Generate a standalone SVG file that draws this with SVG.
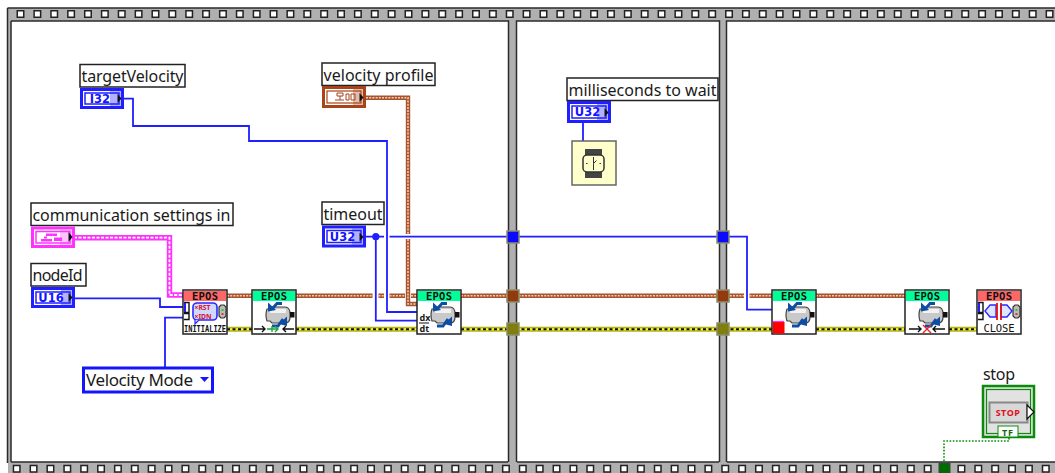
<svg xmlns="http://www.w3.org/2000/svg" width="1055" height="473" viewBox="0 0 1055 473">
<style>
text{font-family:"Noto Sans","Liberation Sans",sans-serif;fill:#1a1a1a}
.lbl{fill:#fff;stroke:#222;stroke-width:1.5}
.lt{font-size:16px}
.w{fill:none;stroke:#1f1fff;stroke-width:1.8}
.bo{fill:none;stroke:#a8532c;stroke-width:4.4}
.bi{fill:none;stroke:#eecfb8;stroke-width:1.6;stroke-dasharray:2 1.2}
.po{fill:none;stroke:#ff33ff;stroke-width:5.4}
.pi{fill:none;stroke:#fff;stroke-width:1.8;stroke-dasharray:3 1.5}
.yo{fill:none;stroke:#b4b41e;stroke-width:5}
.yi{fill:none;stroke:#111;stroke-width:2;stroke-dasharray:3 2.5}
.yy{fill:none;stroke:#f4f430;stroke-width:2}
.band{fill:#b0b0b0}
.edge{fill:none;stroke:#2b2b2b;stroke-width:1.5}
.sqo{fill:none;stroke:#222;stroke-width:8;stroke-dasharray:8 8.87}
.sqi{fill:none;stroke:#fff;stroke-width:5;stroke-dasharray:5 11.87}
.box{fill:#fff;stroke:#222;stroke-width:1.5}
.hg{fill:#00ff99}
.hr{fill:#ff6666}
.ep{font-family:"DejaVu Sans Mono","Liberation Mono",monospace;font-size:10.500px;font-weight:bold;fill:#111}
.cap{font-family:"DejaVu Sans Mono","Liberation Mono",monospace;font-size:9px;font-weight:bold;fill:#111}
.tt{font-family:"DejaVu Sans","Liberation Sans",sans-serif;font-weight:bold;font-size:11.500px;text-anchor:middle;fill:#1414ff}
.tb{fill:#fff;stroke:#1f1fff;stroke-width:3}
.tin{fill:none;stroke:#1f1fff;stroke-width:1.500}
.tun{stroke:#8c8c6c;stroke-width:1.5}
.ar{fill:none;stroke:#111;stroke-width:1.4}
</style>
<defs>
<g id="motor">
<path d="M15 19h3l2-2h13q5 0 5 7v3q0 6-5 6H20l-2-2h-3q-2-6 0-12z" fill="#c9c9c9" stroke="#444" stroke-width="1.200"/>
<rect x="18" y="19" width="16" height="4" fill="#f2f2f2"/>
<rect x="38" y="22" width="4.500" height="5.500" fill="#111"/>
<path d="M30 13.500H25L20 19" fill="none" stroke="#0e4da4" stroke-width="2.800"/>
<path d="M16 12.500L16 21.500L24 20z" fill="#0e4da4"/>
<path d="M20 36H26L31 29" fill="none" stroke="#0e4da4" stroke-width="2.800"/>
<path d="M35 26.500L35 36L27 34z" fill="#0e4da4"/>
</g>
<g id="epos-green">
<rect class="box" x="0" y="0" width="44" height="44"/>
<rect class="hg" x="1" y="1" width="42" height="10"/>
<text class="ep" x="9" y="9.500" textLength="26">EPOS</text>
<use href="#motor"/>
</g>
<g id="epos-red">
<rect class="box" x="0" y="0" width="44" height="44"/>
<rect class="hr" x="1" y="1" width="42" height="10"/>
<text class="ep" x="9" y="9.500" textLength="26">EPOS</text>
<path d="M1 12.500h5v10H1M1 23.500h5v6H1" fill="#fff" stroke="#111" stroke-width="1.400"/>
<rect x="1" y="13" width="2" height="9" fill="#1f1fff"/>
<path d="M38 15h3l2 2v9l-2 2h-3l-2-2v-9z" fill="#bbb" stroke="#333" stroke-width="1.200"/>
<rect x="38.500" y="19" width="2" height="2" fill="#2c2"/>
<rect x="38.500" y="23" width="2" height="2" fill="#e33"/>
</g>
</defs>

<g id="frame">
<rect class="band" x="8" y="8" width="1047" height="13"/>
<rect class="band" x="8" y="462" width="1047" height="11"/>
<rect class="band" x="7" y="8" width="4" height="455"/>
<rect class="band" x="508" y="21" width="9" height="441"/>
<rect class="band" x="719" y="21" width="8" height="441"/>
<path class="edge" d="M7.500 8H1055M11 21V462M11 21H508.500V462M516.500 462V21H719.500V462M726.500 462V21H1055M11 462H508M517 462H719M727 462H1055M7.500 8V463"/>
<path class="sqo" d="M16.500 14H1055"/>
<path class="sqi" d="M18 14H1055"/>
<path class="sqo" d="M12.700 468.800H1055"/>
<path class="sqi" d="M14.200 468.800H1055"/>
</g>

<g id="connectors">
<path class="po" d="M74 237.700H169.500V295H183"/>
<path class="pi" d="M74 237.700H169.500V295H183"/>
<path class="bo" d="M366 97.700H408V234M408 239V304H417"/>
<path class="bi" d="M366 97.700H408V234M408 239V304H417"/>
<path class="bo" d="M227 295.700H252M296 295.700H372.500M378.500 295.700H384M389.500 295.700H405M411 295.700H417M461 295.700H744M749.500 295.700H772M816 295.700H905"/>
<path class="bi" d="M227 295.700H252M296 295.700H372.500M378.500 295.700H384M389.500 295.700H405M411 295.700H417M461 295.700H744M749.500 295.700H772M816 295.700H905"/>
<path class="yo" d="M227 329.300H252M296 329.300H417M461 329.300H772M816 329.300H905M949 329.300H977"/>
<path class="yy" d="M227 329.300H252M296 329.300H417M461 329.300H772M816 329.300H905M949 329.300H977"/>
<path class="yi" d="M227 329.300H252M296 329.300H417M461 329.300H772M816 329.300H905M949 329.300H977"/>
<path class="w" d="M123 98.700H133V126H249V141H387V312H417"/>
<path class="w" d="M366 236.700H384M389.500 236.700H747V309.700H772"/>
<path class="w" d="M375.800 236.700V320.700H417"/>
<circle cx="375.800" cy="236.700" r="3.600" fill="#1f1fff"/>
<path class="w" d="M74 298.300H160V307H183"/>
<path class="w" d="M165 367V317.700H183"/>
<path class="w" d="M583 123V141"/>
<path fill="none" stroke="#0b8a0b" stroke-width="1.600" stroke-dasharray="1.600 1.600" d="M1009 438V441H944V463"/>
<rect x="939" y="463" width="11" height="10" fill="#006b00" stroke="#444"/>
<g class="tun">
<rect x="507" y="231" width="12" height="12" fill="#0a0aff"/>
<rect x="507" y="290" width="12" height="12" fill="#933a0c"/>
<rect x="507" y="323" width="12" height="12" fill="#7f7f10"/>
<rect x="717" y="231" width="12" height="12" fill="#0a0aff"/>
<rect x="717" y="290" width="12" height="12" fill="#933a0c"/>
<rect x="717" y="323" width="12" height="12" fill="#7f7f10"/>
</g>
</g>

<g id="targetVelocity">
<rect class="lbl" x="80" y="64.500" width="105" height="22.500"/>
<text class="lt" x="81.500" y="82" textLength="102">targetVelocity</text>
<rect class="tb" x="81.500" y="89.500" width="41" height="18"/>
<rect class="tin" x="85" y="93" width="34" height="11"/>
<text class="tt" x="100" y="102.800">I32</text>
<rect x="110" y="91" width="12" height="15" fill="#1f1fff" opacity=".35"/>
<path d="M117.500 94l4 4.500-4 4.500z" fill="#111"/>
</g>

<g id="velocityProfile">
<rect class="lbl" x="322" y="63" width="113" height="22.500"/>
<text class="lt" x="323.500" y="80.500" textLength="110">velocity profile</text>
<rect x="323.500" y="87.500" width="41" height="19" fill="#fff" stroke="#a8431a" stroke-width="3"/>
<rect x="327" y="91" width="34" height="12" fill="none" stroke="#a8431a" stroke-width="1.200"/>
<path d="M337 93h6v3h-6zM340 96v4M335 100h9M346 94h3v6h-3zM351 94h4v6h-4z" fill="none" stroke="#a8431a" stroke-width="1"/>
<rect x="353" y="89" width="11" height="16" fill="#a8431a" opacity=".35"/>
<path d="M359.500 93l4 4.500-4 4.500z" fill="#111"/>
</g>

<g id="millisecondsToWait">
<rect class="lbl" x="567" y="78" width="151" height="22.500"/>
<text class="lt" x="568.500" y="95.500" textLength="148">milliseconds to wait</text>
<rect class="tb" x="568.500" y="102.500" width="41" height="19"/>
<rect class="tin" x="572" y="106" width="34" height="12"/>
<text class="tt" x="587.500" y="116.300">U32</text>
<rect x="597" y="104" width="12" height="16" fill="#1f1fff" opacity=".35"/>
<path d="M604.500 108l4 4.500-4 4.500z" fill="#111"/>
</g>

<g id="wait">
<rect x="572" y="141" width="44" height="44" fill="#ffffcc" stroke="#666" stroke-width="1.500"/>
<rect x="585" y="149" width="17" height="29" fill="#444"/>
<rect x="583" y="155" width="21" height="17" rx="4" fill="#ffffcc" stroke="#333" stroke-width="1.500"/>
<path d="M593.500 163.500V157M593.500 163.500l3-3M593.500 163.500V170M586 163.500h1.500M599.500 163.500h1.500" fill="none" stroke="#333"/>
</g>

<g id="communicationSettingsIn">
<rect class="lbl" x="31" y="203" width="202" height="22.500"/>
<text class="lt" x="32.500" y="220.500" textLength="198">communication settings in</text>
<rect x="32.500" y="228" width="41" height="18.500" fill="#fff" stroke="#ff33ff" stroke-width="3"/>
<rect x="36" y="231.500" width="34" height="11.500" fill="#fff" stroke="#ff33ff" stroke-width="1.500"/>
<path d="M41 239h11v2.500h-11zM46 233.500h11v2.500h-11zM44 236.500h3v2h-3zM54 237.500h8v3.500h-8z" fill="#ff33ff"/>
<rect x="60" y="230" width="12" height="15" fill="#ff33ff" opacity=".3"/>
<path d="M68.500 232l4 5-4 5z" fill="#111"/>
</g>

<g id="nodeId">
<rect class="lbl" x="31" y="263.500" width="55" height="22.500"/>
<text class="lt" x="32.500" y="281" textLength="50">nodeId</text>
<rect class="tb" x="32.500" y="288.500" width="41" height="18"/>
<rect class="tin" x="36" y="292" width="34" height="11"/>
<text class="tt" x="51" y="301.800">U16</text>
<rect x="61" y="290" width="12" height="15" fill="#1f1fff" opacity=".35"/>
<path d="M68.500 293l4 4.500-4 4.500z" fill="#111"/>
</g>

<g id="velocityMode">
<rect x="83.500" y="368" width="129" height="24" fill="#fff" stroke="#1414ff" stroke-width="3"/>
<text x="86" y="386" font-size="17" textLength="107">Velocity Mode</text>
<path d="M200 377h9l-4.500 5z" fill="#1414ff"/>
</g>

<g id="timeout">
<rect class="lbl" x="322" y="202" width="62" height="22.500"/>
<text class="lt" x="323.500" y="219.500" textLength="59">timeout</text>
<rect class="tb" x="323.500" y="227" width="41" height="19"/>
<rect class="tin" x="327" y="230.500" width="34" height="12"/>
<text class="tt" x="342.500" y="240.800">U32</text>
<rect x="352" y="228.500" width="12" height="16" fill="#1f1fff" opacity=".35"/>
<path d="M359.500 232.500l4 4.500-4 4.500z" fill="#111"/>
</g>

<g id="initialize" transform="translate(183 290)">
<use href="#epos-red"/>
<rect x="10" y="13" width="24" height="17" rx="4" fill="#cfd8ff" stroke="#2a2aff" stroke-width="1.600"/>
<path d="M12 30v4l4-4" fill="#cfd8ff" stroke="#2a2aff" stroke-width="1.200"/>
<text x="11.500" y="20" font-family="DejaVu Sans Mono,monospace" font-size="6.800" font-weight="bold" style="fill:#e01020">×RST</text>
<text x="11.500" y="28.500" font-family="DejaVu Sans Mono,monospace" font-size="6.800" font-weight="bold" style="fill:#e01020">×IDN</text>
<text class="cap" x="1" y="42" textLength="42" lengthAdjust="spacingAndGlyphs">INITIALIZE</text>
</g>

<g id="configStart" transform="translate(252 290)">
<use href="#epos-green"/>
<path class="ar" d="M2 39h11M10 36l3 3-3 3M31 39h11M34 36l-3 3 3 3"/>
<path d="M15 39h11M23 36l3 3-3 3M20 36v6" fill="none" stroke="#18a83c" stroke-width="1.400"/>
</g>

<g id="configVelocity" transform="translate(417 290)">
<use href="#epos-green"/>
<text x="2.500" y="31" font-family="Liberation Serif,serif" font-size="9" font-weight="bold">dx</text>
<path d="M2 33h10" stroke="#111"/>
<text x="2.500" y="42" font-family="Liberation Serif,serif" font-size="9" font-weight="bold">dt</text>
</g>

<g id="moveVelocity" transform="translate(772 290)">
<use href="#epos-green"/>
<rect x="1" y="32" width="11.500" height="11.500" fill="#ff0000"/>
<path d="M1 31.500h11" stroke="#ff33ff" stroke-width="1.200"/>
</g>

<g id="halt" transform="translate(905 290)">
<use href="#epos-green"/>
<path class="ar" d="M4 39h12M13 36l3 3-3 3M28 39h12M31 36l-3 3 3 3"/>
<path d="M18 35l8 8M26 35l-8 8" fill="none" stroke="#ee2222" stroke-width="1.400"/>
</g>

<g id="close" transform="translate(977 290)">
<use href="#epos-red"/>
<path d="M8 21l5-6h6v12h-6zM35 21l-5-6h-6v12h6z" fill="#dfe4ff" stroke="#2a2aff" stroke-width="1.400"/>
<path d="M20 13v17M24 13v17" stroke="#e81010" stroke-width="1.800" fill="none"/>
<text class="cap" x="6.500" y="41.500" textLength="31" style="font-size:10.500px;font-weight:normal">CLOSE</text>
</g>

<g id="stop">
<text x="983" y="380" font-size="16" textLength="32">stop</text>
<rect x="983" y="386" width="51" height="51" fill="#e2e2e2" stroke="#0b8a0b" stroke-width="2.500"/>
<rect x="986.500" y="389.500" width="44" height="44" fill="none" stroke="#0b8a0b" stroke-width="1.200"/>
<rect x="989.500" y="402.500" width="38" height="20" fill="#d8d8d8" stroke="#888" stroke-width="2"/>
<text x="1008" y="416" font-family="Liberation Sans,sans-serif" font-size="9" font-weight="bold" text-anchor="middle" letter-spacing=".5" style="fill:#e01020">STOP</text>
<path d="M1027 405l7 7-7 7z" fill="#fff" stroke="#111" stroke-width="1.200"/>
<rect x="998" y="426" width="20" height="11" fill="#fff" stroke="#0b8a0b"/>
<text x="1008" y="435.500" font-family="DejaVu Sans Mono,monospace" font-size="9" font-weight="bold" text-anchor="middle" letter-spacing="1" style="fill:#0b6a0b">TF</text>
</g>
</svg>
